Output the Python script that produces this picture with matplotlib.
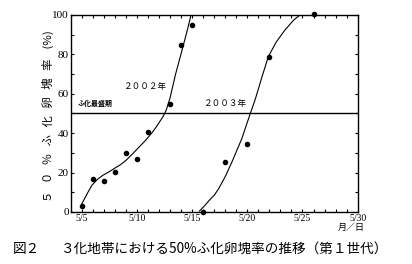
import matplotlib
matplotlib.use("Agg")
import matplotlib.pyplot as plt
from matplotlib.ticker import MultipleLocator, FixedLocator

plt.rcParams['font.family'] = ['Noto Sans CJK JP', 'DejaVu Sans']

# observed points (day in May, %)
days_2002 = [5, 6, 7, 8, 9, 10, 11, 13, 14, 15]
rate_2002 = [3.2, 16.7, 15.7, 20.1, 30.0, 26.8, 40.5, 54.7, 84.8, 94.9]
days_2003 = [16, 18, 20, 22, 26]
rate_2003 = [0.0, 25.5, 34.5, 78.7, 100.5]

# fitted curves
curve_x_2002 = [5.0, 5.5, 5.9, 6.4, 6.9, 7.5, 8.0, 8.5, 9.0, 9.6, 10.2, 10.8,
                11.4, 11.75, 12.35, 12.65, 13.0, 13.5, 14.0, 14.6, 14.9]
curve_y_2002 = [4.2, 9.5, 13.5, 16.5, 18.6, 20.5, 22.3, 24.0, 26.2, 29.5, 33.0,
                36.5, 40.5, 43.2, 48.3, 51.7, 58.0, 70.0, 80.4, 93.1, 100.0]
curve_x_2003 = [15.66, 16.1, 16.56, 17.0, 17.4, 18.0, 18.6, 19.5, 20.27, 20.7,
                21.3, 21.9, 22.6, 23.4, 24.2, 24.8]
curve_y_2003 = [0.5, 3.0, 6.0, 8.5, 11.8, 18.0, 25.3, 37.2, 50.0, 56.8,
                68.0, 78.7, 86.0, 92.2, 97.3, 100.0]

xtick_pos = [5, 10, 15, 20, 25, 30]
xtick_labels = ['5/5', '5/10', '5/15', '5/20', '5/25', '5/30']
ytick_pos = [0, 20, 40, 60, 80, 100]

fig = plt.figure(figsize=(4.12, 2.64), dpi=100)
ax = fig.add_axes([0.172, 0.197, 0.696, 0.747])

ax.plot(curve_x_2002, curve_y_2002, color='black', lw=0.8)
ax.plot(curve_x_2003, curve_y_2003, color='black', lw=0.8)
ax.plot(days_2002, rate_2002, 'o', color='black', ms=3, clip_on=False)
ax.plot(days_2003, rate_2003, 'o', color='black', ms=3, clip_on=False)
ax.axhline(50, color='black', lw=1.0)

ax.set_xlim(4, 30)
ax.set_ylim(0, 100)
ax.xaxis.set_major_locator(FixedLocator(xtick_pos))
ax.set_xticklabels(xtick_labels, family='Liberation Serif', fontsize=7)
ax.xaxis.set_minor_locator(MultipleLocator(1))
ax.set_yticks(ytick_pos)
ax.set_yticklabels([str(v) for v in ytick_pos], family='Liberation Serif', fontsize=8)
ax.yaxis.set_minor_locator(MultipleLocator(10))
ax.tick_params(which='both', direction='in', length=2.5, width=0.8,
               top=True, right=True)
ax.tick_params(axis='x', pad=1.5)
ax.tick_params(axis='y', pad=1.5)
for s in ax.spines.values():
    s.set_linewidth(1.0)

ax.text(10.8, 63.4, '２００２年', fontsize=6.2, ha='center', va='center')
ax.text(18.0, 54.8, '２００３年', fontsize=6.2, ha='center', va='center')
ax.text(4.6, 54.8, 'ふ化最盛期', fontsize=5, fontweight='bold', ha='left', va='center')

fig.text(351 / 412, 1 - 227 / 264, '月／日', fontsize=6.5, ha='center', va='center')
fig.text(48 / 412, 1 - 116 / 264, '５   ０   ％   ふ   化   卵   塊   率    (%)',
         rotation=90, fontsize=8.2, ha='center', va='center')

fig.text(13 / 412, 1 - 249 / 264, '図２', fontsize=9.8, ha='left', va='center')
fig.text(60 / 412, 1 - 249 / 264, '３化地帯における50%ふ化卵塊率の推移（第１世代）',
         fontsize=9.8, ha='left', va='center')

fig.savefig('out.png', dpi=100)
